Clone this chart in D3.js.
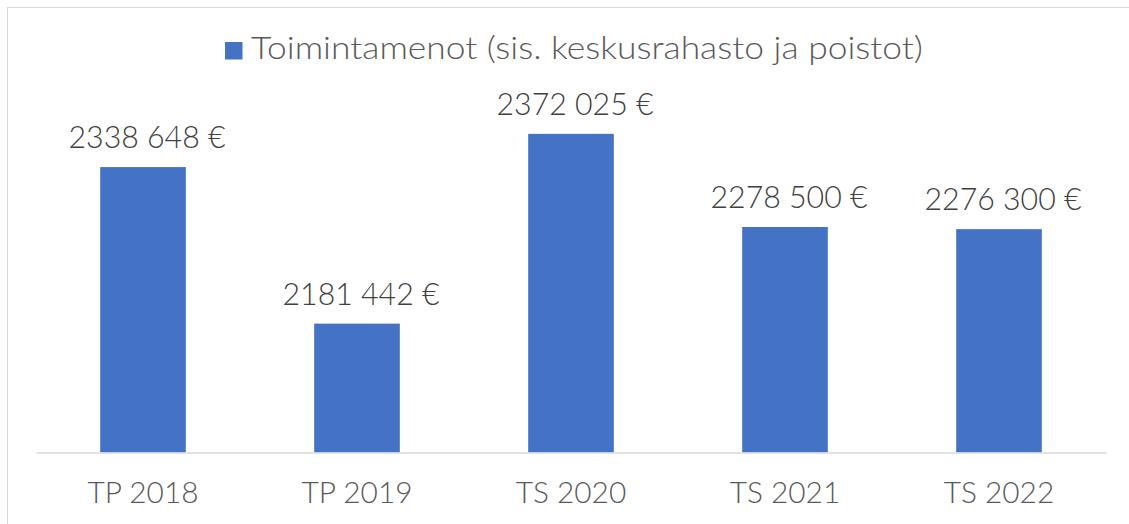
<!DOCTYPE html>
<html>
<head>
<meta charset="utf-8">
<script src="https://cdn.jsdelivr.net/npm/d3@7"></script>
<style>
  html, body { margin: 0; padding: 0; background: #fff; }
  svg { display: block; font-family: Lato, "Open Sans", sans-serif; font-weight: 300; }
</style>
</head>
<body>
<svg id="chart" width="1129" height="524"></svg>
<script>
// data
const categories = ["TP 2018", "TP 2019", "TS 2020", "TS 2021", "TS 2022"];
const values = [2338648, 2181442, 2372025, 2278500, 2276300];
const seriesName = "Toimintamenot (sis. keskusrahasto ja poistot)";
const yDomain = [2052000, 2400000];

const svg = d3.select("#chart");
const W = 1129, H = 524;
const plot = { left: 36, right: 1106, top: 106, bottom: 452.5 };
const barColor = "#4472C4";

// chart area border (runs off the right/bottom edge in the source)
svg.append("rect")
    .attr("x", 7.5).attr("y", 7.5)
    .attr("width", W + 20).attr("height", H + 20)
    .attr("fill", "#fff").attr("stroke", "#d9d9d9").attr("stroke-width", 1);

const x = d3.scaleBand()
    .domain(categories)
    .range([plot.left, plot.right])
    .paddingInner(0.6).paddingOuter(0.3);

const y = d3.scaleLinear().domain(yDomain).range([plot.bottom, plot.top]);

const data = categories.map((c, i) => ({ cat: c, value: values[i] }));

// bars
svg.append("g").selectAll("rect")
    .data(data)
    .join("rect")
    .attr("x", d => x(d.cat))
    .attr("y", d => y(d.value))
    .attr("width", x.bandwidth())
    .attr("height", d => plot.bottom - y(d.value))
    .attr("fill", barColor);

// category axis
const xAxis = svg.append("g")
    .attr("transform", `translate(0,${plot.bottom})`)
    .call(d3.axisBottom(x).tickSize(0).tickPadding(0))
    .attr("font-family", null)
    .attr("font-size", null);
xAxis.select(".domain").attr("stroke", "#d9d9d9").attr("stroke-width", 1.5);
xAxis.selectAll("text")
    .attr("y", 50.5).attr("dy", null)
    .attr("fill", "#595959")
    .style("font-size", "29.5px");

// value labels, formatted like the source: "2338 648 €"
const fmt = v => Math.floor(v / 1000) + " " + String(v % 1000).padStart(3, "0") + " €";
const labels = svg.append("g").selectAll("text")
    .data(data)
    .join("text")
    .attr("x", d => x(d.cat) + x.bandwidth() / 2 + 4)
    .attr("y", d => y(d.value) - 19)
    .attr("text-anchor", "middle")
    .attr("fill", "#404040")
    .style("font-size", "32px")
    .text(d => fmt(d.value));

// legend
const legend = svg.append("g");
legend.append("rect")
    .attr("x", 225).attr("y", 42)
    .attr("width", 17.5).attr("height", 17.5)
    .attr("fill", barColor);
const legendText = legend.append("text")
    .attr("x", 251).attr("y", 59.3)
    .attr("fill", "#595959")
    .style("font-size", "30.5px")
    .text(seriesName);

// stretch text horizontally to the wider face used in the source
function widen(sel, target) {
    const k = target / sel.node().getComputedTextLength();
    sel.each(function () {
        const w = this.getComputedTextLength();
        d3.select(this).attr("textLength", w * k).attr("lengthAdjust", "spacingAndGlyphs");
    });
}
widen(legendText, 672);
widen(labels, 157);
widen(xAxis.selectAll("text"), 111);
</script>
</body>
</html>
